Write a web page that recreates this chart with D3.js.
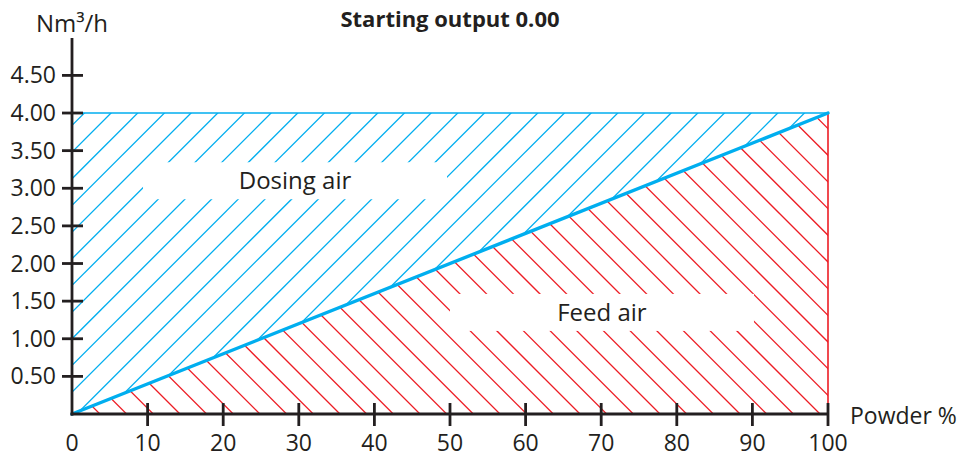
<!DOCTYPE html>
<html>
<head>
<meta charset="utf-8">
<script src="https://cdn.jsdelivr.net/npm/d3@7"></script>
<style>
  html, body { margin: 0; padding: 0; background: #fff; }
  svg { display: block; }
  text { font-family: "Open Sans", "Noto Sans", sans-serif; fill: #231f20; }
</style>
</head>
<body>
<svg id="chart" width="963" height="459"></svg>
<script>
// Powder share (%) at the ends of the operating range
const powder = [0, 100];
// Total air available (Nm³/h) across the range
const totalAir = [4.0, 4.0];
// Feed air (Nm³/h) across the range; dosing air makes up the rest
const feedAir = [0.0, 4.0];

const xTicks = [10, 20, 30, 40, 50, 60, 70, 80, 90, 100];
const xTickLabels = ["10", "20", "30", "40", "50", "60", "70", "80", "90", "100"];
const yTicks = [0.5, 1.0, 1.5, 2.0, 2.5, 3.0, 3.5, 4.0, 4.5];
const yTickLabels = ["0.50", "1.00", "1.50", "2.00", "2.50", "3.00", "3.50", "4.00", "4.50"];

const titleText = "Starting output 0.00";
const yUnit = "Nm³/h";
const xUnit = "Powder %";
const regionLabels = ["Dosing air", "Feed air"];

const CYAN = "#00aeef", RED = "#ed1c24", INK = "#231f20";

const svg = d3.select("#chart");
const x = d3.scaleLinear().domain([0, 100]).range([72, 828]);
const y = d3.scaleLinear().domain([0, 4.5]).range([414, 75.4]);

const pts = (xs, ys) => xs.map((v, i) => [x(v), y(ys[i])]);
const totalPts = pts(powder, totalAir);
const feedPts = pts(powder, feedAir);
const basePts = pts(powder, [0, 0]);

// Region polygons: dosing air above the feed line, feed air below it
const dosingPoly = [feedPts[0], totalPts[0], totalPts[1], feedPts[1]];
const feedPoly = [feedPts[0], basePts[1], feedPts[1]];

const defs = svg.append("defs");
defs.append("clipPath").attr("id", "clipDosing")
  .append("polygon").attr("points", dosingPoly.map(p => p.join(",")).join(" "));
defs.append("clipPath").attr("id", "clipFeed")
  .append("polygon").attr("points", feedPoly.map(p => p.join(",")).join(" "));

// Diagonal hatching, clipped to each region
const step = 26.67;
const H = 459;
// "/" lines for dosing air
svg.append("g").attr("clip-path", "url(#clipDosing)")
  .selectAll("line").data(d3.range(0, 60)).join("line")
  .attr("x1", k => 10.7 + k * step).attr("y1", 0)
  .attr("x2", k => 10.7 + k * step - H).attr("y2", H)
  .attr("stroke", CYAN).attr("stroke-width", 1.3);
// "\" lines for feed air
svg.append("g").attr("clip-path", "url(#clipFeed)")
  .selectAll("line").data(d3.range(-30, 40)).join("line")
  .attr("x1", k => -20.7 + k * step).attr("y1", 0)
  .attr("x2", k => -20.7 + k * step + H).attr("y2", H)
  .attr("stroke", RED).attr("stroke-width", 1.3);

// White label plates with region names
const labelPos = [[29.5, 3.10], [70.1, 1.35]];
regionLabels.forEach((t, i) => {
  const cx = x(labelPos[i][0]), cy = y(labelPos[i][1]);
  svg.append("rect")
    .attr("x", cx - 152).attr("y", cy - 18.5)
    .attr("width", 304).attr("height", 37)
    .attr("fill", "#fff");
  svg.append("text")
    .attr("x", cx).attr("y", cy + 8.5)
    .attr("text-anchor", "middle")
    .style("font-size", "24px")
    .text(t);
});

// Region boundaries
const line = d3.line();
svg.append("path").attr("d", line(totalPts))
  .attr("stroke", CYAN).attr("stroke-width", 1.6).attr("fill", "none");
svg.append("path").attr("d", line([basePts[1], totalPts[1]]))
  .attr("stroke", RED).attr("stroke-width", 1.6).attr("fill", "none");
svg.append("path").attr("d", line(feedPts))
  .attr("stroke", CYAN).attr("stroke-width", 3.4).attr("fill", "none")
  .attr("stroke-linecap", "round");

// Axes
const axes = svg.append("g").attr("stroke", INK).attr("stroke-width", 2.8);
axes.append("line").attr("x1", x(0)).attr("x2", x(0)).attr("y1", y(0) + 1.4).attr("y2", 38);
axes.append("line").attr("x1", x(0) - 1.4).attr("x2", x(100)).attr("y1", y(0)).attr("y2", y(0));
axes.selectAll(".yt").data(yTicks).join("line")
  .attr("x1", x(0) - 10).attr("x2", x(0) + 11)
  .attr("y1", d => y(d)).attr("y2", d => y(d));
axes.selectAll(".xt").data(xTicks).join("line")
  .attr("x1", d => x(d)).attr("x2", d => x(d))
  .attr("y1", y(0) - 11).attr("y2", y(0) + 12);

svg.selectAll(".ylab").data(yTicks).join("text")
  .attr("x", 56).attr("y", d => y(d) + 8)
  .attr("text-anchor", "end")
  .style("font-size", "23px")
  .text((d, i) => yTickLabels[i]);
svg.selectAll(".xlab").data([0].concat(xTicks)).join("text")
  .attr("x", d => x(d)).attr("y", 451)
  .attr("text-anchor", "middle")
  .style("font-size", "23px")
  .text((d, i) => i === 0 ? "0" : xTickLabels[i - 1]);

svg.append("text").attr("x", x(0)).attr("y", 32)
  .attr("text-anchor", "middle").style("font-size", "24px").text(yUnit);
svg.append("text").attr("x", 850).attr("y", 424)
  .style("font-size", "23px").text(xUnit);
svg.append("text").attr("x", 450).attr("y", 27)
  .attr("text-anchor", "middle")
  .style("font-size", "22px").style("font-weight", "bold")
  .text(titleText);
</script>
</body>
</html>
